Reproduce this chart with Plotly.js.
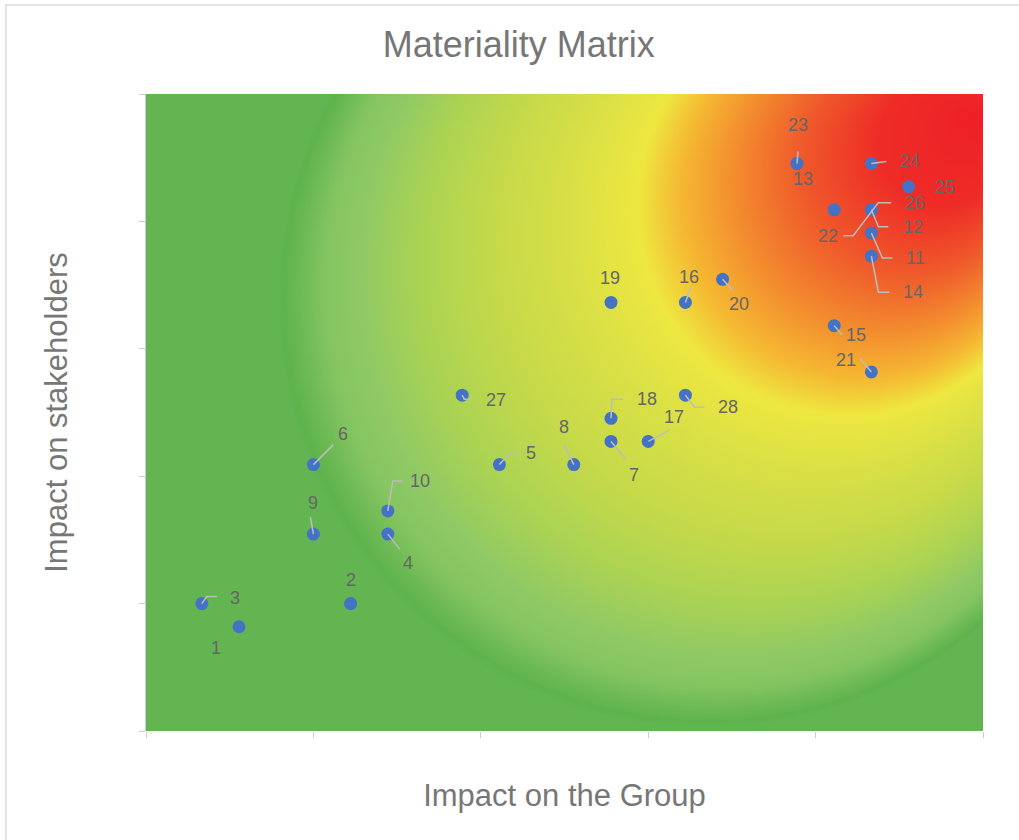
<!DOCTYPE html>
<html>
<head>
<meta charset="utf-8">
<script src="https://cdn.plot.ly/plotly-3.0.1.min.js"></script>
<style>
html,body{margin:0;padding:0;background:#fff;}
#wrap{position:relative;width:1019px;height:840px;overflow:hidden;}
#chart{width:1019px;height:840px;}
#frame{position:absolute;left:5px;top:4px;right:-10px;bottom:-10px;border-top:2px solid #e4e4e4;border-left:2px solid #e4e4e4;pointer-events:none;}
</style>
</head>
<body>
<div id="wrap"><div id="chart"></div><div id="frame"></div></div>
<script>
// ---- data ----
const topicIds = [1,2,3,4,5,6,7,8,9,10,11,12,13,14,15,16,17,18,19,20,21,22,23,24,25,26,27,28];
const impactOnGroup = [2,5,1,6,9,4,12,11,4,6,19,19,17,19,18,14,13,12,12,15,19,18,17,19,20,19,8,14];
const impactOnStakeholders = [4,5,5,8,11,11,12,11,8,9,21,22,24,20,17,18,12,13,18,19,15,22,24,24,23,22,14,14];

// ---- label placement (pixel offsets from each point, screen y downwards) ----
const labelOffsets = {
  1:[-23,21], 2:[0,-24], 3:[33,-6], 4:[20,29], 5:[32,-12], 6:[30,-31], 7:[23,34],
  8:[-10,-38], 9:[0,-31], 10:[32,-30], 11:[44,25], 12:[42,17], 13:[6,16], 14:[42,36],
  15:[22,9], 16:[4,-25], 17:[26,-24], 18:[36,-19], 19:[-1,-24], 20:[16,25], 21:[-25,-12],
  22:[-6,26], 23:[1,-38], 24:[39,-2], 25:[36,0], 26:[44,-7], 27:[34,5], 28:[43,12]
};
// leader lines (pixel polylines from each point, screen y downwards)
const leaderPaths = {
  3:[[0,0],[5,-7],[15,-7]], 4:[[0,0],[12,15]], 5:[[0,0],[10,-11],[19,-11]],
  6:[[0,0],[20,-20]], 7:[[0,0],[15,18]], 8:[[0,0],[-10,-20]], 9:[[0,0],[-3,-17]],
  10:[[0,0],[5,-30],[15,-30]], 11:[[0,0],[11,25],[21,25]], 12:[[0,0],[7,17],[17,17]],
  14:[[0,0],[7,36],[18,36]], 15:[[0,0],[8,9]], 16:[[0,0],[5,-14]], 17:[[0,0],[21,-11]],
  18:[[0,0],[1,-19],[12,-19]], 20:[[0,0],[10,11]], 21:[[0,0],[-11,-13]],
  22:[[9,26],[19,26],[44,-7],[57,-7]], 23:[[0,0],[1,-12]], 24:[[0,0],[15,-2]],
  27:[[0,0],[2,4],[10,4]], 28:[[0,0],[9,12],[19,12]]
};

const FONT = '"Liberation Sans", Arial, Helvetica, sans-serif';

// ---- background heat gradient (decorative) ----
function gradientImage(){
  const w = 837, h = 637;
  const c = document.createElement('canvas'); c.width = w; c.height = h;
  const g = c.getContext('2d');
  const grad = g.createRadialGradient(839, 21, 0, 559, 206, 428);
  [[0.00,'#ee1f26'],[0.15,'#ee2c27'],[0.26,'#ef5a2b'],[0.35,'#f38a2e'],[0.43,'#f5b832'],
   [0.49,'#eee740'],[0.57,'#dce145'],[0.70,'#c4d94a'],[0.80,'#aad354'],[0.885,'#8fc965'],
   [0.93,'#85c561'],[0.99,'#5eb34d'],[1.00,'#62b550']].forEach(s => grad.addColorStop(s[0], s[1]));
  g.fillStyle = grad; g.fillRect(0, 0, w, h);
  return c.toDataURL('image/png');
}

const trace = {
  type: 'scatter', mode: 'markers',
  x: impactOnGroup, y: impactOnStakeholders, text: topicIds.map(String),
  marker: {size: 13, color: '#4472c4', line: {width: 0}},
  hoverinfo: 'text', showlegend: false
};

const annotations = topicIds.map((id, i) => ({
  x: impactOnGroup[i], y: impactOnStakeholders[i], xref: 'x', yref: 'y',
  text: String(id), showarrow: false,
  xshift: labelOffsets[id][0], yshift: -labelOffsets[id][1],
  xanchor: 'center', yanchor: 'middle',
  font: {family: FONT, size: 18, color: '#666666'}
}));

const shapes = [];
topicIds.forEach((id, i) => {
  const p = leaderPaths[id];
  if (!p) return;
  const d = p.map((pt, k) => (k ? 'L' : 'M') + pt[0] + ',' + (-pt[1])).join(' ');
  shapes.push({
    type: 'path', xref: 'x', yref: 'y', xsizemode: 'pixel', ysizemode: 'pixel',
    xanchor: impactOnGroup[i], yanchor: impactOnStakeholders[i], path: d,
    line: {color: '#bdbdbd', width: 1.5}, layer: 'above'
  });
});

const layout = {
  width: 1019, height: 840,
  margin: {l: 146, r: 36, t: 94, b: 109},
  paper_bgcolor: '#ffffff', plot_bgcolor: 'rgba(0,0,0,0)',
  title: {text: 'Materiality Matrix', font: {family: FONT, size: 36, color: '#767676'},
          x: 0.509, xanchor: 'center', xref: 'container', y: 1 - 44/840, yref: 'container', yanchor: 'middle'},
  xaxis: {
    range: [-0.5, 22], tick0: -0.5, dtick: 4.5, showticklabels: false,
    ticks: 'outside', ticklen: 6, tickwidth: 1, tickcolor: '#cccccc',
    showgrid: false, zeroline: false, showline: false, fixedrange: true,
    title: {text: 'Impact on the Group', font: {family: FONT, size: 31, color: '#777777'}, standoff: 47}
  },
  yaxis: {
    range: [-0.5, 27], tick0: -0.5, dtick: 5.5, showticklabels: false,
    ticks: 'outside', ticklen: 6, tickwidth: 1, tickcolor: '#cccccc',
    showgrid: false, zeroline: false, showline: true, linecolor: '#cccccc', linewidth: 1, fixedrange: true,
    title: {text: 'Impact on stakeholders', font: {family: FONT, size: 31, color: '#777777'}, standoff: 62}
  },
  images: [{source: gradientImage(), xref: 'paper', yref: 'paper', x: 0, y: 1, sizex: 1, sizey: 1,
            sizing: 'stretch', xanchor: 'left', yanchor: 'top', layer: 'below'}],
  annotations: annotations,
  shapes: shapes
};

Plotly.newPlot('chart', [trace], layout, {displayModeBar: false, staticPlot: true});
</script>
</body>
</html>
